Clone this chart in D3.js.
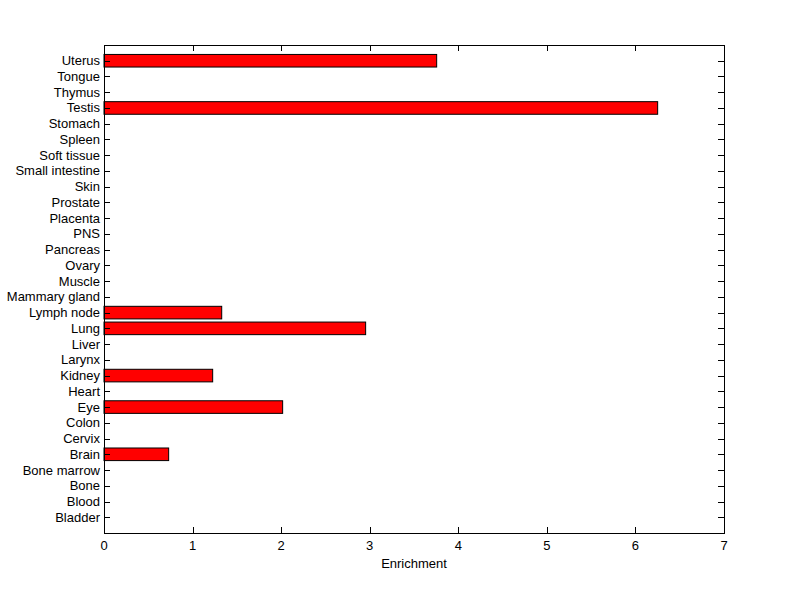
<!DOCTYPE html>
<html><head><meta charset="utf-8">
<script src="https://cdn.jsdelivr.net/npm/d3@7"></script>
<style>body{margin:0;background:#fff}svg{display:block}text{font-family:"Liberation Sans",Arial,sans-serif;font-size:13px;fill:#000}</style>
</head><body>
<svg id="c" width="800" height="599"></svg>
<script>
const categories = ["Bladder","Blood","Bone","Bone marrow","Brain","Cervix","Colon","Eye","Heart","Kidney","Larynx","Liver","Lung","Lymph node","Mammary gland","Muscle","Ovary","Pancreas","PNS","Placenta","Prostate","Skin","Small intestine","Soft tissue","Spleen","Stomach","Testis","Thymus","Tongue","Uterus"];
const values = [0,0,0,0,0.73,0,0,2.017,0,1.227,0,0,2.954,1.329,0,0,0,0,0,0,0,0,0,0,0,0,6.251,0,0,3.756];
const xTicks = [0,1,2,3,4,5,6,7];
const xLabel = "Enrichment";

const svg = d3.select("#c");
const L=104, R=724, T=45, B=533;
const x = d3.scaleLinear().domain([0,7]).range([L,R]);
const y = d3.scaleLinear().domain([0,categories.length+1]).range([B,T]);
const bw = 0.8;

svg.append("rect").attr("width",800).attr("height",599).attr("fill","#fff");

svg.append("g").selectAll("rect").data(values.map((v,i)=>({v,i}))).join("rect")
  .filter(d=>d.v>0)
  .attr("x",x(0)).attr("y",d=>y(d.i+1+bw/2))
  .attr("width",d=>x(d.v)-x(0)).attr("height",d=>y(d.i+1-bw/2)-y(d.i+1+bw/2))
  .attr("fill","#ff0000").attr("stroke","#000").attr("stroke-width",1);

svg.append("rect").attr("x",L+0.5).attr("y",T+0.5).attr("width",R-L).attr("height",B-T)
  .attr("fill","none").attr("stroke","#000").attr("stroke-width",1);

const tl=6;
const g = svg.append("g").attr("stroke","#000").attr("stroke-width",1);
xTicks.forEach(t=>{
  const px=Math.round(x(t))+0.5;
  g.append("line").attr("x1",px).attr("x2",px).attr("y1",B).attr("y2",B-tl);
  g.append("line").attr("x1",px).attr("x2",px).attr("y1",T).attr("y2",T+tl);
});
categories.forEach((c,i)=>{
  const py=Math.round(y(i+1))+0.5;
  g.append("line").attr("x1",L).attr("x2",L+tl).attr("y1",py).attr("y2",py);
  g.append("line").attr("x1",R).attr("x2",R-tl).attr("y1",py).attr("y2",py);
});

svg.append("g").selectAll("text").data(xTicks).join("text")
  .attr("x",d=>x(d)).attr("y",B+17).attr("text-anchor","middle").attr("textLength",7).text(d=>d);
svg.append("g").selectAll("text").data(categories).join("text")
  .attr("x",L-4).attr("y",(d,i)=>y(i+1)+4.5).attr("text-anchor","end").text(d=>d);
svg.append("text").attr("x",(L+R)/2).attr("y",B+35).attr("text-anchor","middle").text(xLabel);
</script>
</body></html>
